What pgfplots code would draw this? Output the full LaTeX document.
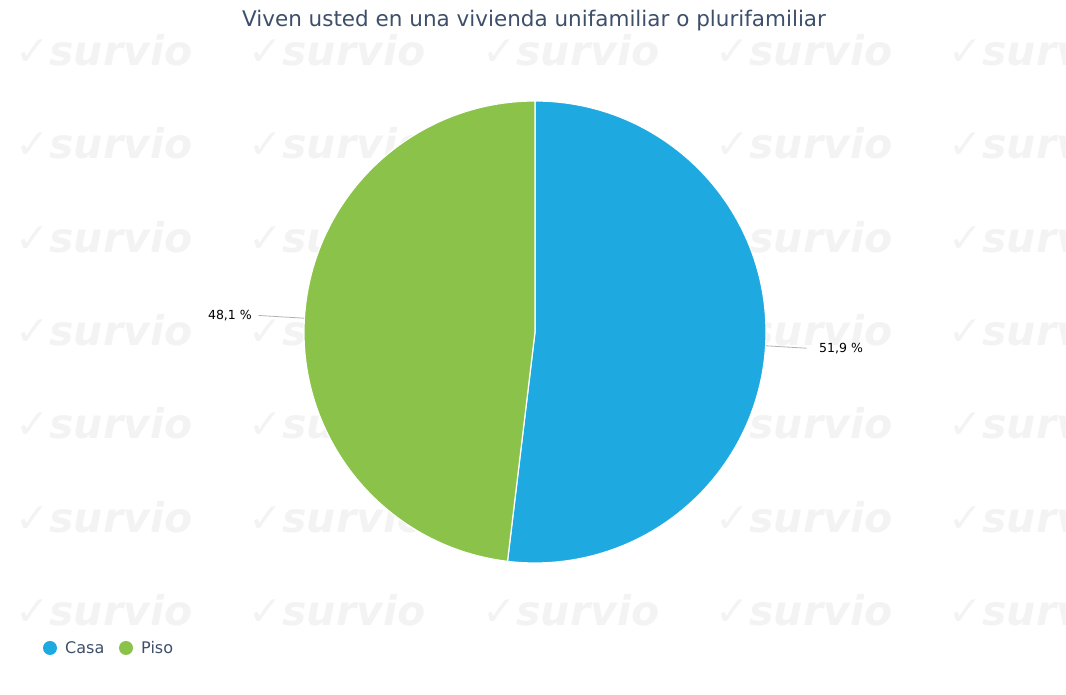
\documentclass[border=0pt]{standalone}
\usepackage{fontspec}
\setmainfont{DejaVu Sans}
\usepackage{pgfplots}
\usepackage{pgfplotstable}
\pgfplotsset{compat=1.18}
\definecolor{casa}{HTML}{1FA9E1}
\definecolor{piso}{HTML}{8BC34A}
\definecolor{titlec}{HTML}{3D4F6A}
\definecolor{wmark}{HTML}{F3F3F3}

\pgfplotstableread{
label value
Casa  51.9
Piso  48.1
}\piedata

\begin{document}
\begin{tikzpicture}
\pgfplotstablegetelem{0}{value}\of\piedata \let\va\pgfplotsretval
\pgfplotstablegetelem{1}{value}\of\piedata \let\vb\pgfplotsretval
\pgfmathsetmacro\aend{90-3.6*\va}
\pgfmathsetmacro\bend{\aend-3.6*\vb}
\pgfmathsetmacro\amid{90-1.8*\va}
\pgfmathsetmacro\bmid{\aend-1.8*\vb}

% watermark
\begin{scope}
\clip (0,0) rectangle (1066pt,695pt);
\foreach \wx in {15,248,482,715,948}{
  \foreach \wy in {50,143,237,330,423,517,610}{
    \node[anchor=west,inner sep=0pt,text=wmark,font=\fontsize{41}{41}\selectfont\bfseries\itshape]
      at (\wx pt,695pt-\wy pt) {\char"2713survio};
  }
}
\end{scope}

\begin{axis}[width=1066pt,height=695pt,scale only axis,
  xmin=0,xmax=1066,ymin=0,ymax=695,hide axis,clip=false]
\coordinate (O) at (axis cs:535,363);
\fill[casa,draw=white,line width=1.2pt] (O) -- ++(90:231pt)
  arc[start angle=90,end angle=\aend,radius=231pt] -- cycle;
\fill[piso,draw=white,line width=1.2pt] (O) -- ++(\aend:231pt)
  arc[start angle=\aend,end angle=\bend,radius=231pt] -- cycle;
\draw[gray!60,line width=0.8pt] (O) ++(\amid:231pt) -- ++(\amid:41pt)
  node[anchor=west,text=black,font=\fontsize{12.5}{12.5}\selectfont,xshift=9pt] {51,9 \%};
\draw[gray!60,line width=0.8pt] (O) ++(\bmid:231pt) -- ++(\bmid:46pt)
  node[anchor=east,text=black,font=\fontsize{12.5}{12.5}\selectfont,xshift=-3pt] {48,1 \%};
\end{axis}

% title
\node[text=titlec,font=\fontsize{21.5}{22}\selectfont] at (534pt,695pt-21pt)
  {Viven usted en una vivienda unifamiliar o plurifamiliar};
% legend
\fill[casa] (50pt,695pt-648pt) circle (7pt);
\node[anchor=west,inner sep=0pt,text=titlec,font=\fontsize{16}{16}\selectfont]
  at (65pt,695pt-648pt) {Casa};
\fill[piso] (126pt,695pt-648pt) circle (7pt);
\node[anchor=west,inner sep=0pt,text=titlec,font=\fontsize{16}{16}\selectfont]
  at (141pt,695pt-648pt) {Piso};
\end{tikzpicture}
\end{document}
